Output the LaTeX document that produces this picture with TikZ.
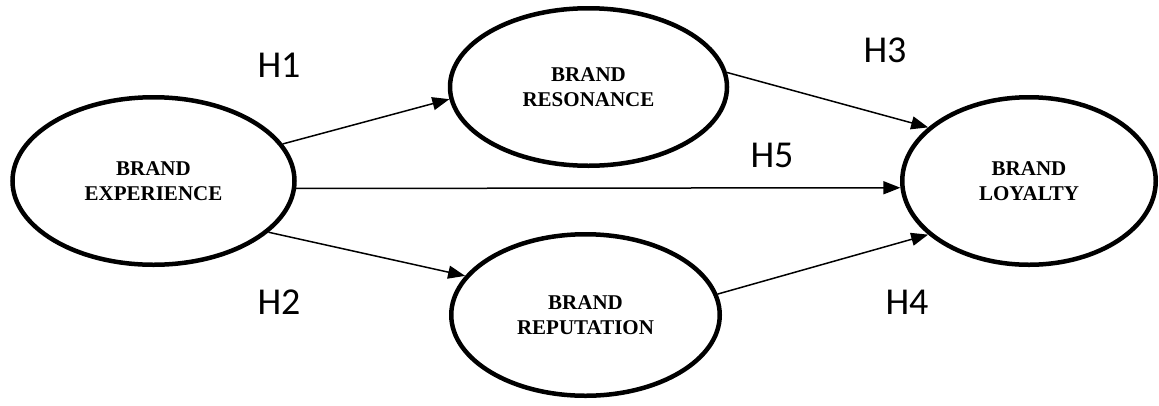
\documentclass[tikz,border=0pt]{standalone}
\usepackage{fontspec}
\setmainfont{Liberation Serif}
\newfontfamily\hfont{Carlito}
\usetikzlibrary{shapes.geometric,arrows.meta}
\tikzset{
  construct/.style={ellipse, draw, line width=4.5pt, inner sep=0pt, align=center,
    font=\fontsize{21}{25}\selectfont\bfseries},
  hyp/.style={font=\hfont\fontsize{38}{40}\selectfont, inner sep=0pt},
  link/.style={line width=1.5pt, -{Triangle[length=17pt,width=13pt]}}
}
\begin{document}
\begin{tikzpicture}[x=1pt,y=-1pt]
\useasboundingbox (0,0) rectangle (1159,405);
\node[construct, minimum width=282pt, minimum height=167.5pt] (exp) at (153.5,181) {BRAND\\EXPERIENCE};
\node[construct, minimum width=277pt, minimum height=157.5pt] (res) at (588.5,87) {BRAND\\RESONANCE};
\node[construct, minimum width=253.5pt, minimum height=167.5pt] (loy) at (1029,181) {BRAND\\LOYALTY};
\node[construct, minimum width=268.5pt, minimum height=161.5pt] (rep) at (585.5,315) {BRAND\\REPUTATION};
\draw[link] (exp.16.4) -- (res.185.4);
\draw[link] (exp.-3.2) -- (loy.183.5);
\draw[link] (exp.-24.1) -- (rep.162.1);
\draw[link] (res.6) -- (loy.152.3);
\draw[link] (rep.9.7) -- (loy.208.1);
\node[hyp] (h1) at (279,65) {H1};
\node[hyp] (h2) at (279,302) {H2};
\node[hyp] (h3) at (885,50) {H3};
\node[hyp] (h5) at (772,155) {H5};
\node[hyp] (h4) at (907,302) {H4};
\end{tikzpicture}
\end{document}
